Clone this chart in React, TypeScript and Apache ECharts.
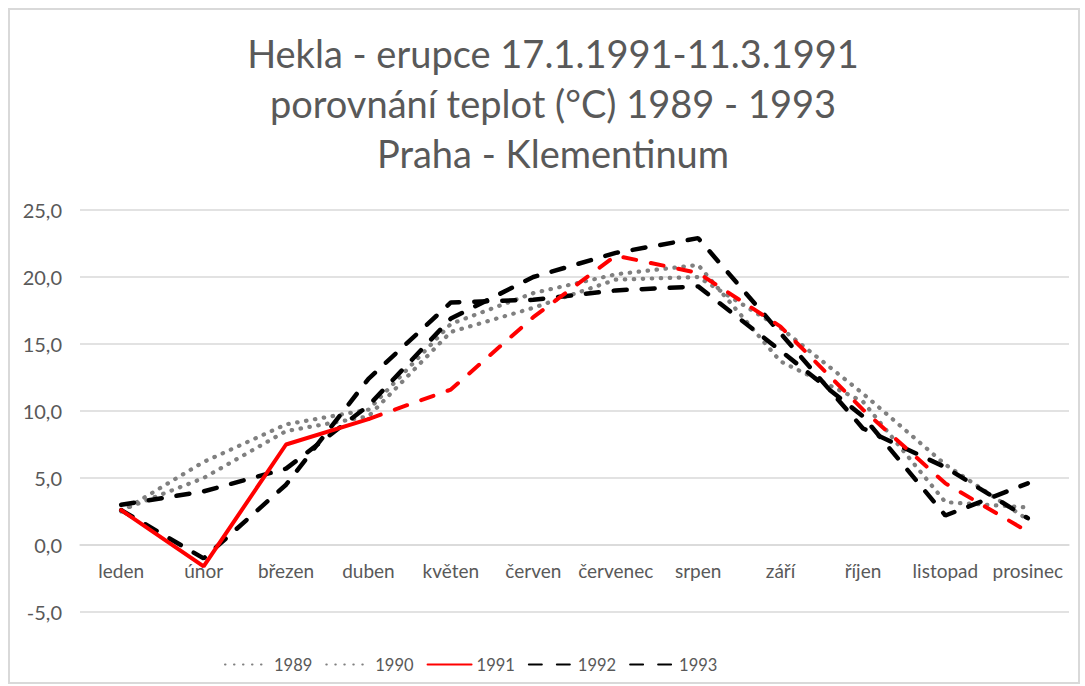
import React, { useEffect, useRef } from "react";
import * as echarts from "echarts";

const months = ["leden", "únor", "březen", "duben", "květen", "červen", "červenec", "srpen", "září", "říjen", "listopad", "prosinec"];
const t1989 = [2.6, 5.0, 8.5, 9.6, 15.9, 17.7, 19.8, 20.0, 16.2, 11.3, 6.0, 1.9];
const t1990 = [2.5, 6.2, 9.0, 10.1, 16.5, 18.8, 20.2, 20.9, 13.7, 10.7, 3.2, 2.8];
const t1991 = [2.6, -1.6, 7.5, 9.4, 11.6, 17.0, 21.6, 20.3, 16.3, 10.1, 4.6, 1.0];
const t1992 = [3.0, 4.0, 5.7, 10.4, 16.9, 20.0, 21.8, 22.9, 15.8, 8.7, 5.8, 2.0];
const t1993 = [2.6, -1.0, 4.5, 12.4, 18.1, 18.3, 19.0, 19.3, 14.5, 9.6, 2.2, 4.6];
const solidUntil = 3; // 1991 drawn solid up to "duben", dashed afterwards
const yMin = -5;
const yMax = 25;
const yStep = 5;
const legendNames = ["1989", "1990", "1991", "1992", "1993"];
const titleText = "Hekla - erupce 17.1.1991-11.3.1991\nporovnání teplot (°C) 1989 - 1993\nPraha - Klementinum";

const FONT = "Lato, 'Open Sans', sans-serif";
const TXT = "#595959";
const GRID_TOP = 210;
const GRID_BOTTOM = 74;
const H = 686;

export default function App() {
  const ref = useRef<HTMLDivElement>(null);
  useEffect(() => {
    if (!ref.current) return;
    const chart = echarts.init(ref.current, null, { renderer: "svg" });
    const red1991Solid = t1991.map((v, i) => (i <= solidUntil ? v : null));
    const red1991Dash = t1991.map((v, i) => (i >= solidUntil ? v : null));
    const dotted = { color: "#808080", width: 4.2, type: [0.5, 8.5], cap: "round" as const };
    const dashedBlack = { color: "#000000", width: 4.5, type: [13, 15], cap: "round" as const };
    const plotH = H - GRID_TOP - GRID_BOTTOM;
    const zeroOffset = -((0 - yMin) / (yMax - yMin)) * plotH;
    const mk = (name: string, data: (number | null)[], ls: any, z: number) => ({
      type: "line",
      name,
      data,
      symbol: "none",
      showSymbol: false,
      connectNulls: false,
      lineStyle: ls,
      itemStyle: { color: ls.color },
      z,
    });
    chart.setOption({
      animation: false,
      backgroundColor: "#ffffff",
      title: {
        text: titleText,
        left: 548,
        textAlign: "center",
        top: 23,
        textStyle: { fontFamily: FONT, fontSize: 38, fontWeight: "normal", color: TXT, lineHeight: 50 },
      },
      graphic: [
        {
          type: "rect",
          shape: { x: 9, y: 9, width: 1070, height: 674 },
          style: { fill: "none", stroke: "#d9d9d9", lineWidth: 2 },
          silent: true,
        },
      ],
      grid: { left: 80, right: 16, top: GRID_TOP, bottom: GRID_BOTTOM },
      xAxis: {
        type: "category",
        data: months,
        boundaryGap: true,
        offset: zeroOffset,
        axisLine: { show: true, onZero: false, lineStyle: { color: "#d9d9d9", width: 1.5 } },
        axisTick: { show: false },
        axisLabel: { color: TXT, fontFamily: FONT, fontSize: 19, margin: 16, interval: 0 },
      },
      yAxis: {
        type: "value",
        min: yMin,
        max: yMax,
        interval: yStep,
        axisLine: { show: false },
        axisTick: { show: false },
        splitLine: { lineStyle: { color: "#d9d9d9", width: 1.5 } },
        axisLabel: {
          color: TXT,
          fontFamily: FONT,
          fontSize: 20,
          margin: 18,
          formatter: (v: number) => v.toFixed(1).replace(".", ","),
        },
      },
      legend: {
        data: legendNames,
        left: 219,
        top: 651,
        itemWidth: 44,
        itemHeight: 14,
        itemGap: 13,
        itemStyle: { opacity: 0 },
        textStyle: { color: TXT, fontFamily: FONT, fontSize: 16.5 },
      },
      series: [
        mk("1989", t1989, dotted, 2),
        mk("1990", t1990, dotted, 2),
        mk("1992", t1992, dashedBlack, 3),
        mk("1993", t1993, dashedBlack, 3),
        mk("1991", red1991Solid, { color: "#ff0000", width: 4, type: "solid", cap: "round" }, 4),
        mk("1991b", red1991Dash, { color: "#ff0000", width: 4, type: [13, 15], cap: "round" }, 4),
      ],
    });
    return () => chart.dispose();
  }, []);
  return (
    <div
      ref={ref}
      style={{ position: "absolute", left: 0, top: 0, width: 1085, height: 686 }}
    />
  );
}
